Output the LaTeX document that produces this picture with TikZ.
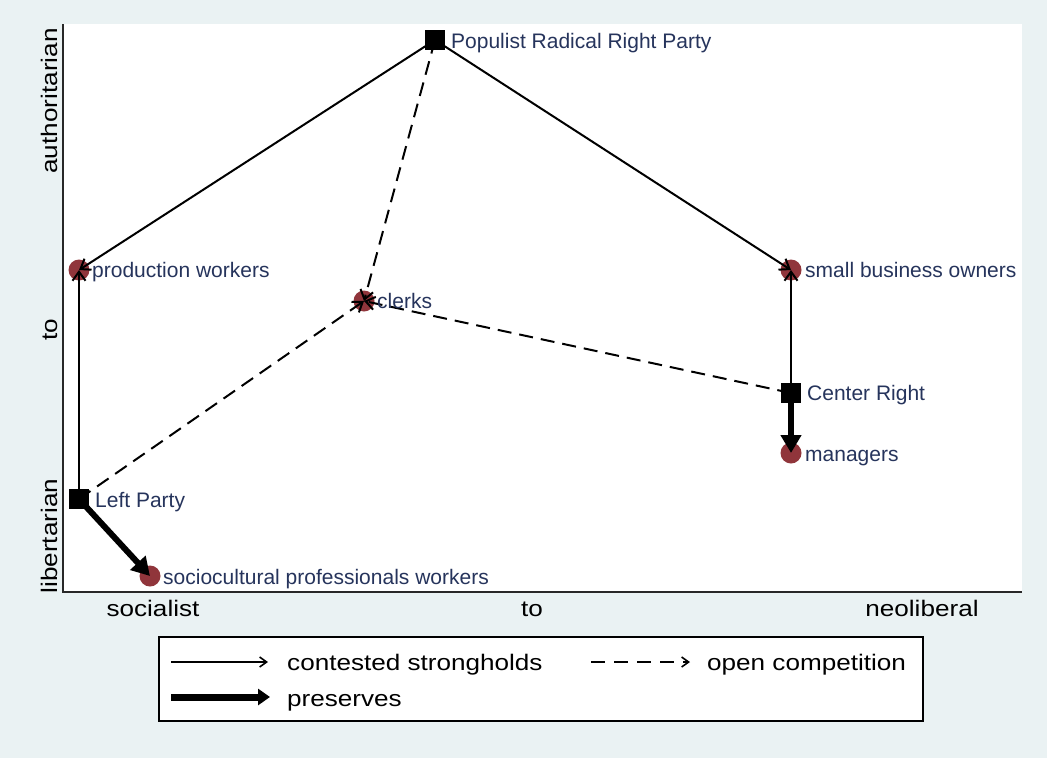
\documentclass[tikz,border=0pt]{standalone}
\usepackage{fontspec}
\setmainfont{Liberation Sans}
\newfontfamily\axisfont[FakeStretch=1.16]{Liberation Sans}
\usetikzlibrary{arrows.meta}
\definecolor{bgblue}{RGB}{234,242,243}
\definecolor{cranberry}{RGB}{144,53,59}
\definecolor{navytext}{RGB}{38,52,92}
\definecolor{axisgray}{RGB}{40,40,40}

\begin{document}
\begin{tikzpicture}[x=1pt,y=-1pt,
  group/.style={circle,fill=cranberry,minimum size=21pt,inner sep=0pt},
  party/.style={rectangle,fill=black,minimum size=20pt,inner sep=0pt},
  lbl/.style={anchor=base west,inner sep=0pt,text=navytext,font=\fontsize{21}{25}\selectfont},
  axlbl/.style={anchor=base,inner sep=0pt,font=\axisfont\fontsize{22.5}{27}\selectfont},
  contest/.style={-{Straight Barb[length=9pt,width=13pt]},line width=2pt},
  opencomp/.style={contest,dash pattern=on 14pt off 8pt},
  preserve/.style={-{Triangle[length=18pt,width=20pt]},line width=6pt},
]
% canvas and plot region
\fill[bgblue] (0,0) rectangle (1047,758);
\useasboundingbox (0,0) rectangle (1047,758);
\fill[white] (63,24) rectangle (1022,592);
\draw[axisgray,line width=1.2pt] (63,24) -- (63,592) -- (1022,592);

% axis labels
\node[axlbl,rotate=90] (auth) at (57,101) {authoritarian};
\node[axlbl,rotate=90] (yto) at (57,330) {to};
\node[axlbl,rotate=90] (lib) at (57,536) {libertarian};
\node[axlbl] (soc) at (153,616) {socialist};
\node[axlbl] (xto) at (532,616) {to};
\node[axlbl] (neo) at (922,616) {neoliberal};

% voter groups
\node[group] (prod) at (79,270) {};
\node[group] (clerks) at (364,301) {};
\node[group] (sbo) at (791,270) {};
\node[group] (mgr) at (791,453) {};
\node[group] (socio) at (150,576) {};

% parties
\node[party] (prr) at (435,40) {};
\node[party] (cr) at (791,393) {};
\node[party] (left) at (79,499) {};

% contested strongholds
\draw[contest] (prr.center) -- (prod.center);
\draw[contest] (prr.center) -- (sbo.center);
\draw[contest] (left.center) -- (prod.center);
\draw[contest] (cr.center) -- (sbo.center);

% open competition
\draw[opencomp] (prr.center) -- (clerks.center);
\draw[opencomp] (left.center) -- (clerks.center);
\draw[opencomp] (cr.center) -- (clerks.center);

% preserves
\draw[preserve] (left.center) -- (socio.center);
\draw[preserve] (cr.center) -- (mgr.center);

% marker labels
\node[lbl] (prrlbl) at (451,48) {Populist Radical Right Party};
\node[lbl] (prodlbl) at (92,277) {production workers};
\node[lbl] (clerkslbl) at (377,308) {clerks};
\node[lbl] (sbolbl) at (805,277) {small business owners};
\node[lbl] (crlbl) at (807,400) {Center Right};
\node[lbl] (mgrlbl) at (805,461) {managers};
\node[lbl] (leftlbl) at (95,507) {Left Party};
\node[lbl] (sociolbl) at (163,584) {sociocultural professionals workers};

% legend
\node[draw,fill=white,line width=1.2pt,minimum width=764pt,minimum height=84pt,inner sep=0pt] (legend) at (541,679) {};
\coordinate (k1a) at (171,662);
\coordinate (k1b) at (268,662);
\coordinate (k2a) at (591,662);
\coordinate (k2b) at (690,662);
\coordinate (k3a) at (171,697);
\coordinate (k3b) at (270,697);
\draw[-{Straight Barb[length=7pt,width=10pt]},line width=1.6pt] (k1a) -- (k1b);
\draw[-{Straight Barb[length=7pt,width=10pt]},line width=1.6pt,dash pattern=on 14pt off 9pt] (k2a) -- (k2b);
\draw[-{Triangle[length=12pt,width=16pt]},line width=7pt] (k3a) -- (k3b);
\node[axlbl,anchor=base west] (k1lbl) at (287,670) {contested strongholds};
\node[axlbl,anchor=base west] (k2lbl) at (707,670) {open competition};
\node[axlbl,anchor=base west] (k3lbl) at (287,706) {preserves};
\end{tikzpicture}
\end{document}
